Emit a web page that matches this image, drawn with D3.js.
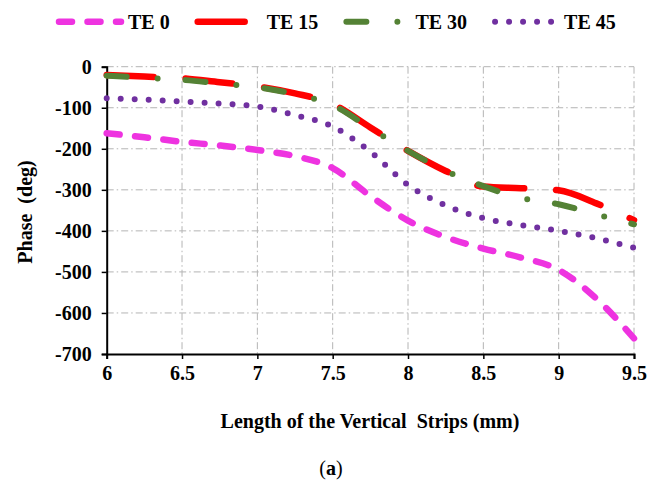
<!DOCTYPE html>
<html>
<head>
<meta charset="utf-8">
<script src="https://cdn.jsdelivr.net/npm/d3@7"></script>
<style>
  body { margin: 0; background: #fff; }
  text { font-family: "Liberation Serif", "Times New Roman", serif; }
</style>
</head>
<body>
<svg class="chart"></svg>
<script>
var canvasW = 647;
var canvasH = 481;

// data
var lengths = [6, 6.25, 6.5, 6.75, 7, 7.25, 7.5, 7.75, 8, 8.25, 8.5, 8.75, 9, 9.25, 9.5];
var te0  = [-162, -172, -183, -192, -203, -218, -247, -315, -375, -415, -443, -465, -495, -565, -662];
var te15 = [-20, -24, -28, -38, -48, -65, -91, -148, -205, -254, -292, -296, -301, -333, -374];
var te30 = [-22, -27, -32, -41, -50, -67, -94, -150, -205, -254, -291, -320, -335, -360, -384];
var te45 = [-77, -80, -85, -90, -97, -118, -146, -207, -288, -338, -369, -386, -400, -418, -441];
var seriesNames = ["TE 0", "TE 15", "TE 30", "TE 45"];
var xTicks = [6, 6.5, 7, 7.5, 8, 8.5, 9, 9.5];
var yTicks = [0, -100, -200, -300, -400, -500, -600, -700];

var styles = [
  {color: "#ee33e0", width: 6.5, dash: "13 15.5"},
  {color: "#ff0000", width: 6.5, dash: "47 32"},
  {color: "#548235", width: 6, dash: "20 31 0 28"},
  {color: "#7030a0", width: 6, dash: "0 14"}
];

var fontSize = "20px";
var plotL = 106.7, plotR = 634, plotT = 66.7, plotB = 354;

var x = d3.scaleLinear().domain([6, 9.5]).range([plotL, plotR]);
var y = d3.scaleLinear().domain([-700, 0]).range([plotB, plotT]);

var svg = d3.select(".chart")
  .attr("width", canvasW)
  .attr("height", canvasH);

svg.append("rect").attr("width", "100%").attr("height", "100%").attr("fill", "white");

// gridlines (dash dot)
var grid = svg.append("g").attr("stroke", "#b4b4b4").attr("stroke-width", 1)
  .attr("stroke-dasharray", "7 3 1.5 3");
grid.selectAll("line.h").data(yTicks.filter(function(d){ return d > -700; }))
  .enter().append("line")
  .attr("x1", plotL).attr("x2", plotR)
  .attr("y1", function(d){ return y(d); }).attr("y2", function(d){ return y(d); });
grid.selectAll("line.v").data(xTicks.filter(function(d){ return d > 6; }))
  .enter().append("line")
  .attr("y1", plotT).attr("y2", plotB)
  .attr("x1", function(d){ return x(d); }).attr("x2", function(d){ return x(d); });

// axes
var xAxis = d3.axisBottom(x).tickValues(xTicks).tickSize(5).tickFormat(function(d){ return d; });
var yAxis = d3.axisLeft(y).tickValues(yTicks).tickSize(5).tickFormat(function(d){ return d; });

var gx = svg.append("g").attr("transform", "translate(0," + plotB + ")").call(xAxis);
var gy = svg.append("g").attr("transform", "translate(" + plotL + ",0)").call(yAxis);

[gx, gy].forEach(function(g){
  g.select(".domain").attr("stroke", "#000").attr("stroke-width", 2);
  g.selectAll(".tick line").attr("stroke", "#000").attr("stroke-width", 1.5);
  g.selectAll(".tick text")
    .attr("fill", "#000")
    .style("font-family", "'Liberation Serif', serif")
    .style("font-weight", "bold")
    .style("font-size", fontSize);
});
gx.selectAll(".tick text").attr("y", 12);
gy.selectAll(".tick text").attr("x", -15);

// series
var allSeries = [te0, te15, te30, te45];
var line = d3.line()
  .x(function(d){ return x(d[0]); })
  .y(function(d){ return y(d[1]); })
  .curve(d3.curveMonotoneX);

allSeries.forEach(function(vals, k){
  var pts = lengths.map(function(l, i){ return [l, vals[i]]; });
  svg.append("path")
    .datum(pts)
    .attr("d", line)
    .attr("fill", "none")
    .attr("stroke", styles[k].color)
    .attr("stroke-width", styles[k].width)
    .attr("stroke-linecap", "round")
    .attr("stroke-dasharray", styles[k].dash);
});

// legend
var legend = svg.append("g").attr("class", "legend");
var lx = 59;
seriesNames.forEach(function(name, k){
  var item = legend.append("g").attr("transform", "translate(" + lx + ",21.7)");
  item.append("line")
    .attr("x1", 0).attr("x2", 62).attr("y1", 0).attr("y2", 0)
    .attr("stroke", styles[k].color)
    .attr("stroke-width", styles[k].width)
    .attr("stroke-linecap", "round")
    .attr("stroke-dasharray", styles[k].dash);
  var t = item.append("text")
    .attr("x", 69).attr("y", 6.8)
    .style("font-weight", "bold")
    .style("font-size", fontSize)
    .text(name);
  lx += 69 + t.node().getComputedTextLength() + 28;
});

// axis titles
svg.append("text")
  .attr("x", 370).attr("y", 428)
  .attr("text-anchor", "middle")
  .style("font-weight", "bold")
  .style("font-size", fontSize)
  .style("white-space", "pre")
  .text("Length of the Vertical  Strips (mm)");

svg.append("text")
  .attr("transform", "translate(32,212) rotate(-90)")
  .attr("text-anchor", "middle")
  .style("font-weight", "bold")
  .style("font-size", fontSize)
  .style("white-space", "pre")
  .text("Phase  (deg)");

var cap = svg.append("text")
  .attr("x", 331).attr("y", 475)
  .attr("text-anchor", "middle")
  .style("font-size", fontSize);
cap.append("tspan").text("(");
cap.append("tspan").style("font-weight", "bold").text("a");
cap.append("tspan").text(")");
</script>
</body>
</html>
